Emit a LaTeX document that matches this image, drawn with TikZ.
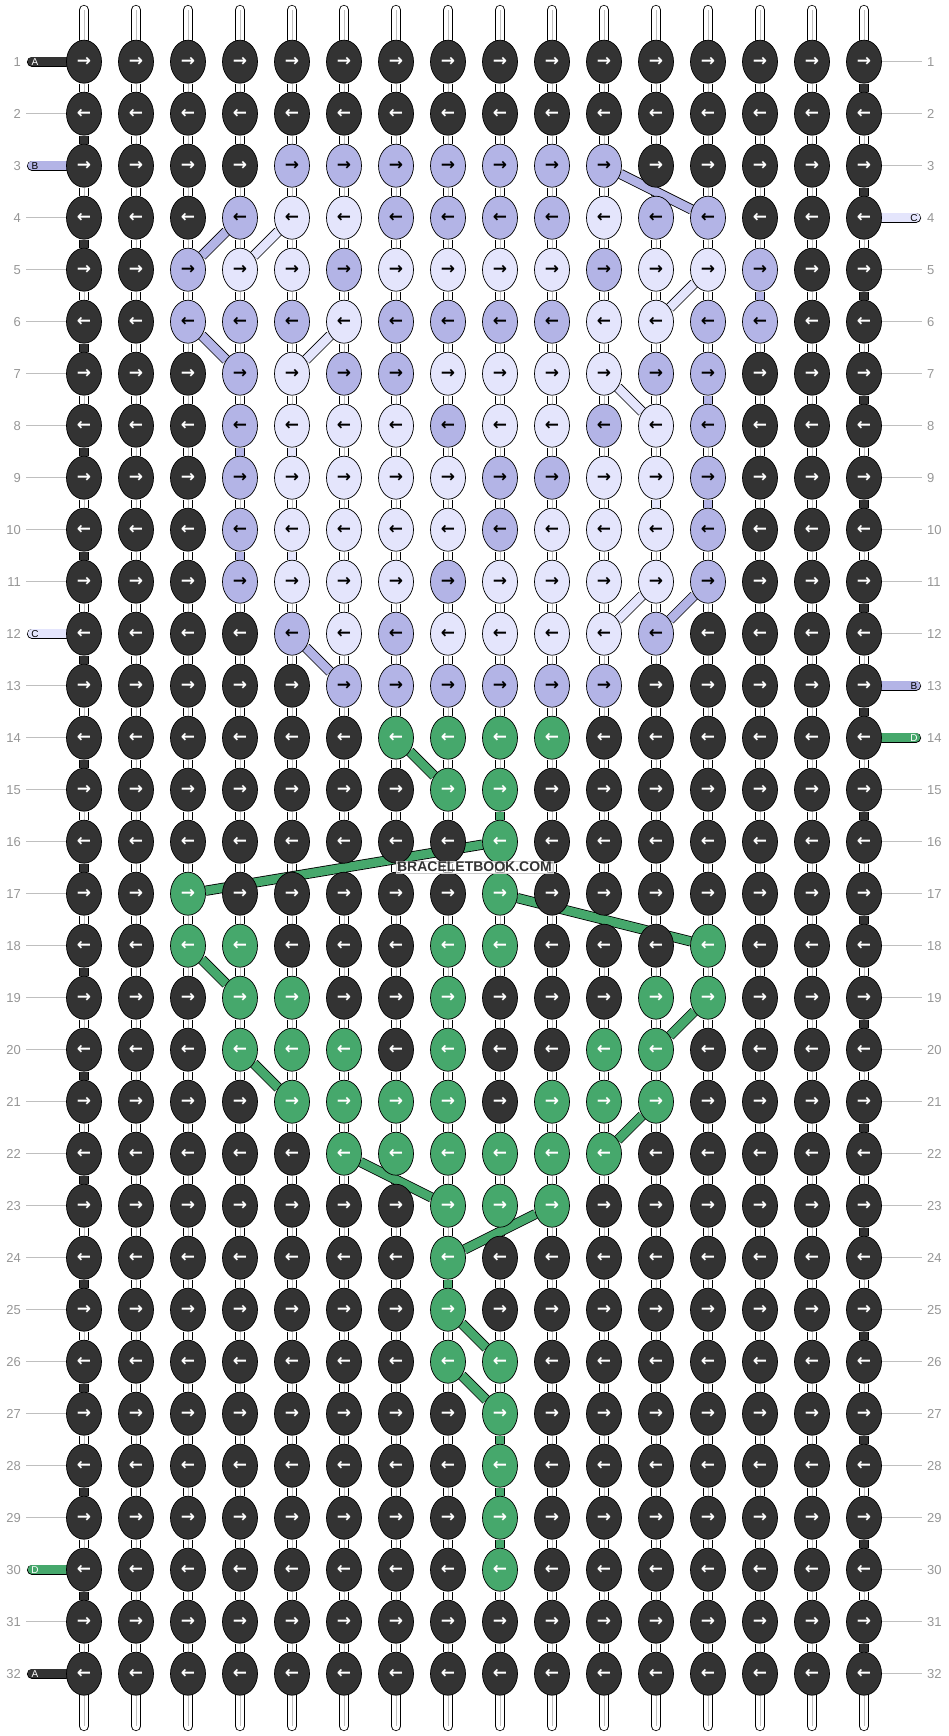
\documentclass[tikz,border=0pt]{standalone}
\usepackage{fontspec}
\setmainfont{Liberation Sans}
\newfontfamily\arrowfont{DejaVu Sans}
\usepackage{tikz}
\usetikzlibrary{shapes}
\usetikzlibrary{backgrounds}

\definecolor{knotA}{RGB}{51,51,51}
\definecolor{knotB}{RGB}{179,180,230}
\definecolor{knotC}{RGB}{228,229,252}
\definecolor{knotD}{RGB}{70,168,108}
\definecolor{numgray}{RGB}{150,150,150}

\tikzset{
    knot/.style={ellipse, draw=black, line width=0.7pt, minimum width=35pt, minimum height=43pt, inner sep=0pt, font=\arrowfont\bfseries\fontsize{17}{17}\selectfont},
    bar/.style={draw=knotA, line width=10pt},
    strand/.style={draw=black, line width=0.8pt, double=white, double distance=8.6pt},
    link/.style={draw=black, line width=0.8pt, double distance=8.6pt},
    tick/.style={draw=black!25, line width=0.8pt},
    rownum/.style={text=numgray, font=\fontsize{13}{13}\selectfont, inner sep=0pt},
    tag/.style={font=\fontsize{10}{10}\selectfont, inner sep=0pt},
}

\begin{document}
\begin{tikzpicture}[x=1pt, y=-1pt]
    \useasboundingbox (0,0) rectangle (948,1736);
    % 0 = A, 1 = B, 2 = C, 3 = D
    \foreach \pattern [count=\i] in {
            {0,0,0,0,0,0,0,0,0,0,0,0,0,0,0,0},
            {0,0,0,0,0,0,0,0,0,0,0,0,0,0,0,0},
            {0,0,0,0,1,1,1,1,1,1,1,0,0,0,0,0},
            {0,0,0,1,2,2,1,1,1,1,2,1,1,0,0,0},
            {0,0,1,2,2,1,2,2,2,2,1,2,2,1,0,0},
            {0,0,1,1,1,2,1,1,1,1,2,2,1,1,0,0},
            {0,0,0,1,2,1,1,2,2,2,2,1,1,0,0,0},
            {0,0,0,1,2,2,2,1,2,2,1,2,1,0,0,0},
            {0,0,0,1,2,2,2,2,1,1,2,2,1,0,0,0},
            {0,0,0,1,2,2,2,2,1,2,2,2,1,0,0,0},
            {0,0,0,1,2,2,2,1,2,2,2,2,1,0,0,0},
            {0,0,0,0,1,2,1,2,2,2,2,1,0,0,0,0},
            {0,0,0,0,0,1,1,1,1,1,1,0,0,0,0,0},
            {0,0,0,0,0,0,3,3,3,3,0,0,0,0,0,0},
            {0,0,0,0,0,0,0,3,3,0,0,0,0,0,0,0},
            {0,0,0,0,0,0,0,0,3,0,0,0,0,0,0,0},
            {0,0,3,0,0,0,0,0,3,0,0,0,0,0,0,0},
            {0,0,3,3,0,0,0,3,3,0,0,0,3,0,0,0},
            {0,0,0,3,3,0,0,3,0,0,0,3,3,0,0,0},
            {0,0,0,3,3,3,0,3,0,0,3,3,0,0,0,0},
            {0,0,0,0,3,3,3,3,0,3,3,3,0,0,0,0},
            {0,0,0,0,0,3,3,3,3,3,3,0,0,0,0,0},
            {0,0,0,0,0,0,0,3,3,3,0,0,0,0,0,0},
            {0,0,0,0,0,0,0,3,0,0,0,0,0,0,0,0},
            {0,0,0,0,0,0,0,3,0,0,0,0,0,0,0,0},
            {0,0,0,0,0,0,0,3,3,0,0,0,0,0,0,0},
            {0,0,0,0,0,0,0,0,3,0,0,0,0,0,0,0},
            {0,0,0,0,0,0,0,0,3,0,0,0,0,0,0,0},
            {0,0,0,0,0,0,0,0,3,0,0,0,0,0,0,0},
            {0,0,0,0,0,0,0,0,3,0,0,0,0,0,0,0},
            {0,0,0,0,0,0,0,0,0,0,0,0,0,0,0,0},
            {0,0,0,0,0,0,0,0,0,0,0,0,0,0,0,0}} {
        \pgfmathsetmacro{\ypos}{52*\i+9.7}
        \foreach \v [count=\j] in \pattern {
            \ifnum\v=0
                \edef\nodecolor{knotA}\edef\arrowcolor{white}
            \else
                \ifnum\v=1
                    \edef\nodecolor{knotB}\edef\arrowcolor{black}
                \else
                    \ifnum\v=2
                        \edef\nodecolor{knotC}\edef\arrowcolor{black}
                    \else
                        \edef\nodecolor{knotD}\edef\arrowcolor{white}
                    \fi
                \fi
            \fi
            \ifodd\i \edef\arrow{→}\else \edef\arrow{←}\fi
            \node[knot, fill=\nodecolor, text=\arrowcolor] (k\i-\j) at (32+52*\j, \ypos) {\arrow};
        }
        \node[rownum, anchor=east] (numl\i) at (21, \ypos) {\i};
        \node[rownum, anchor=west] (numr\i) at (927, \ypos) {\i};
    }

    \foreach \i/\t/\fillc/\textc in {1/A/knotA/white, 3/B/knotB/black, 12/C/knotC/black, 30/D/knotD/white, 32/A/knotA/white}
        \node[tag, text=\textc] (tagl\i) at (35, 52*\i+9.7) {\t};
    \foreach \i/\t/\fillc/\textc in {4/C/knotC/black, 13/B/knotB/black, 14/D/knotD/white}
        \node[tag, text=\textc] (tagr\i) at (914, 52*\i+9.7) {\t};

    \begin{pgfonlayer}{background}
        \foreach \j in {1,...,16} {
            \coordinate (top\j) at (32+52*\j, 10);
            \coordinate (bot\j) at (32+52*\j, 1726);
            \draw[strand, line cap=round] (top\j) -- (k1-\j);
            \draw[numgray!60, line width=0.5pt] (top\j) -- (k1-\j);
            \draw[strand, line cap=round] (k32-\j) -- (bot\j);
            \draw[numgray!60, line width=0.5pt] (k32-\j) -- (bot\j);
        }
        \foreach \i [evaluate=\i as \ii using int(\i+1)] in {1,...,31}
            \foreach \j in {1,...,16} {
                \draw[strand] (k\i-\j) -- (k\ii-\j);
                \draw[numgray!60, line width=0.5pt] (k\i-\j) -- (k\ii-\j);
            }
        \foreach \i in {1,...,32}
            \foreach \j [evaluate=\j as \jj using int(\j+1)] in {1,...,15}
                \draw[bar] (k\i-\j) -- (k\i-\jj);

        % row ticks
        \foreach \i in {2,4,5,6,7,8,9,10,11,13,14,15,16,17,18,19,20,21,22,23,24,25,26,27,28,29,31} {
            \coordinate (tl\i) at (26, 52*\i+9.7);
            \draw[tick] (tl\i) -- (k\i-1);
        }
        \foreach \i in {1,2,3,5,6,7,8,9,10,11,12,15,16,17,18,19,20,21,22,23,24,25,26,27,28,29,30,31,32} {
            \coordinate (tr\i) at (922, 52*\i+9.7);
            \draw[tick] (k\i-16) -- (tr\i);
        }
        \foreach \i/\fillc in {1/knotA, 3/knotB, 12/knotC, 30/knotD, 32/knotA} {
            \coordinate (pl\i) at (32, 52*\i+9.7);
            \draw[link, double=\fillc, line cap=round] (pl\i) -- (k\i-1);
        }
        \foreach \i/\fillc in {4/knotC, 13/knotB, 14/knotD} {
            \coordinate (pr\i) at (916, 52*\i+9.7);
            \draw[link, double=\fillc, line cap=round] (k\i-16) -- (pr\i);
        }

        % string A turning at the edges
        \foreach \i [evaluate=\i as \ii using int(\i+1)] in {2,4,...,30}
            \draw[link, double=knotA] (k\i-1) -- (k\ii-1);
        \foreach \i [evaluate=\i as \ii using int(\i+1)] in {1,3,...,31}
            \draw[link, double=knotA] (k\i-16) -- (k\ii-16);
        % string B
        \foreach \ia/\ja/\ib/\jb in {3/11/4/13, 4/4/5/3, 5/14/6/14, 6/3/7/4, 7/13/8/13, 8/4/9/4, 9/13/10/13, 10/4/11/4, 11/13/12/12, 12/5/13/6}
            \draw[link, double=knotB] (k\ia-\ja) -- (k\ib-\jb);
        % string C
        \foreach \ia/\ja/\ib/\jb in {4/5/5/4, 5/13/6/12, 6/6/7/5, 7/11/8/12, 8/5/9/5, 9/12/10/12, 10/5/11/5, 11/12/12/11}
            \draw[link, double=knotC] (k\ia-\ja) -- (k\ib-\jb);
        % string D
        \foreach \ia/\ja/\ib/\jb in {14/7/15/8, 15/9/16/9, 16/9/17/3, 17/9/18/13, 18/3/19/4, 19/13/20/12, 20/4/21/5, 21/12/22/11, 22/6/23/8, 23/10/24/8, 24/8/25/8, 25/8/26/9, 26/8/27/9, 27/9/28/9, 28/9/29/9, 29/9/30/9}
            \draw[link, double=knotD] (k\ia-\ja) -- (k\ib-\jb);
    \end{pgfonlayer}

    \node[font=\fontsize{14}{14}\selectfont\bfseries, text=knotA, fill=white, fill opacity=0.6, text opacity=1, draw=black!20, inner sep=1pt] (mark) at (474.5, 867) {BRACELETBOOK.COM};
\end{tikzpicture}
\end{document}
